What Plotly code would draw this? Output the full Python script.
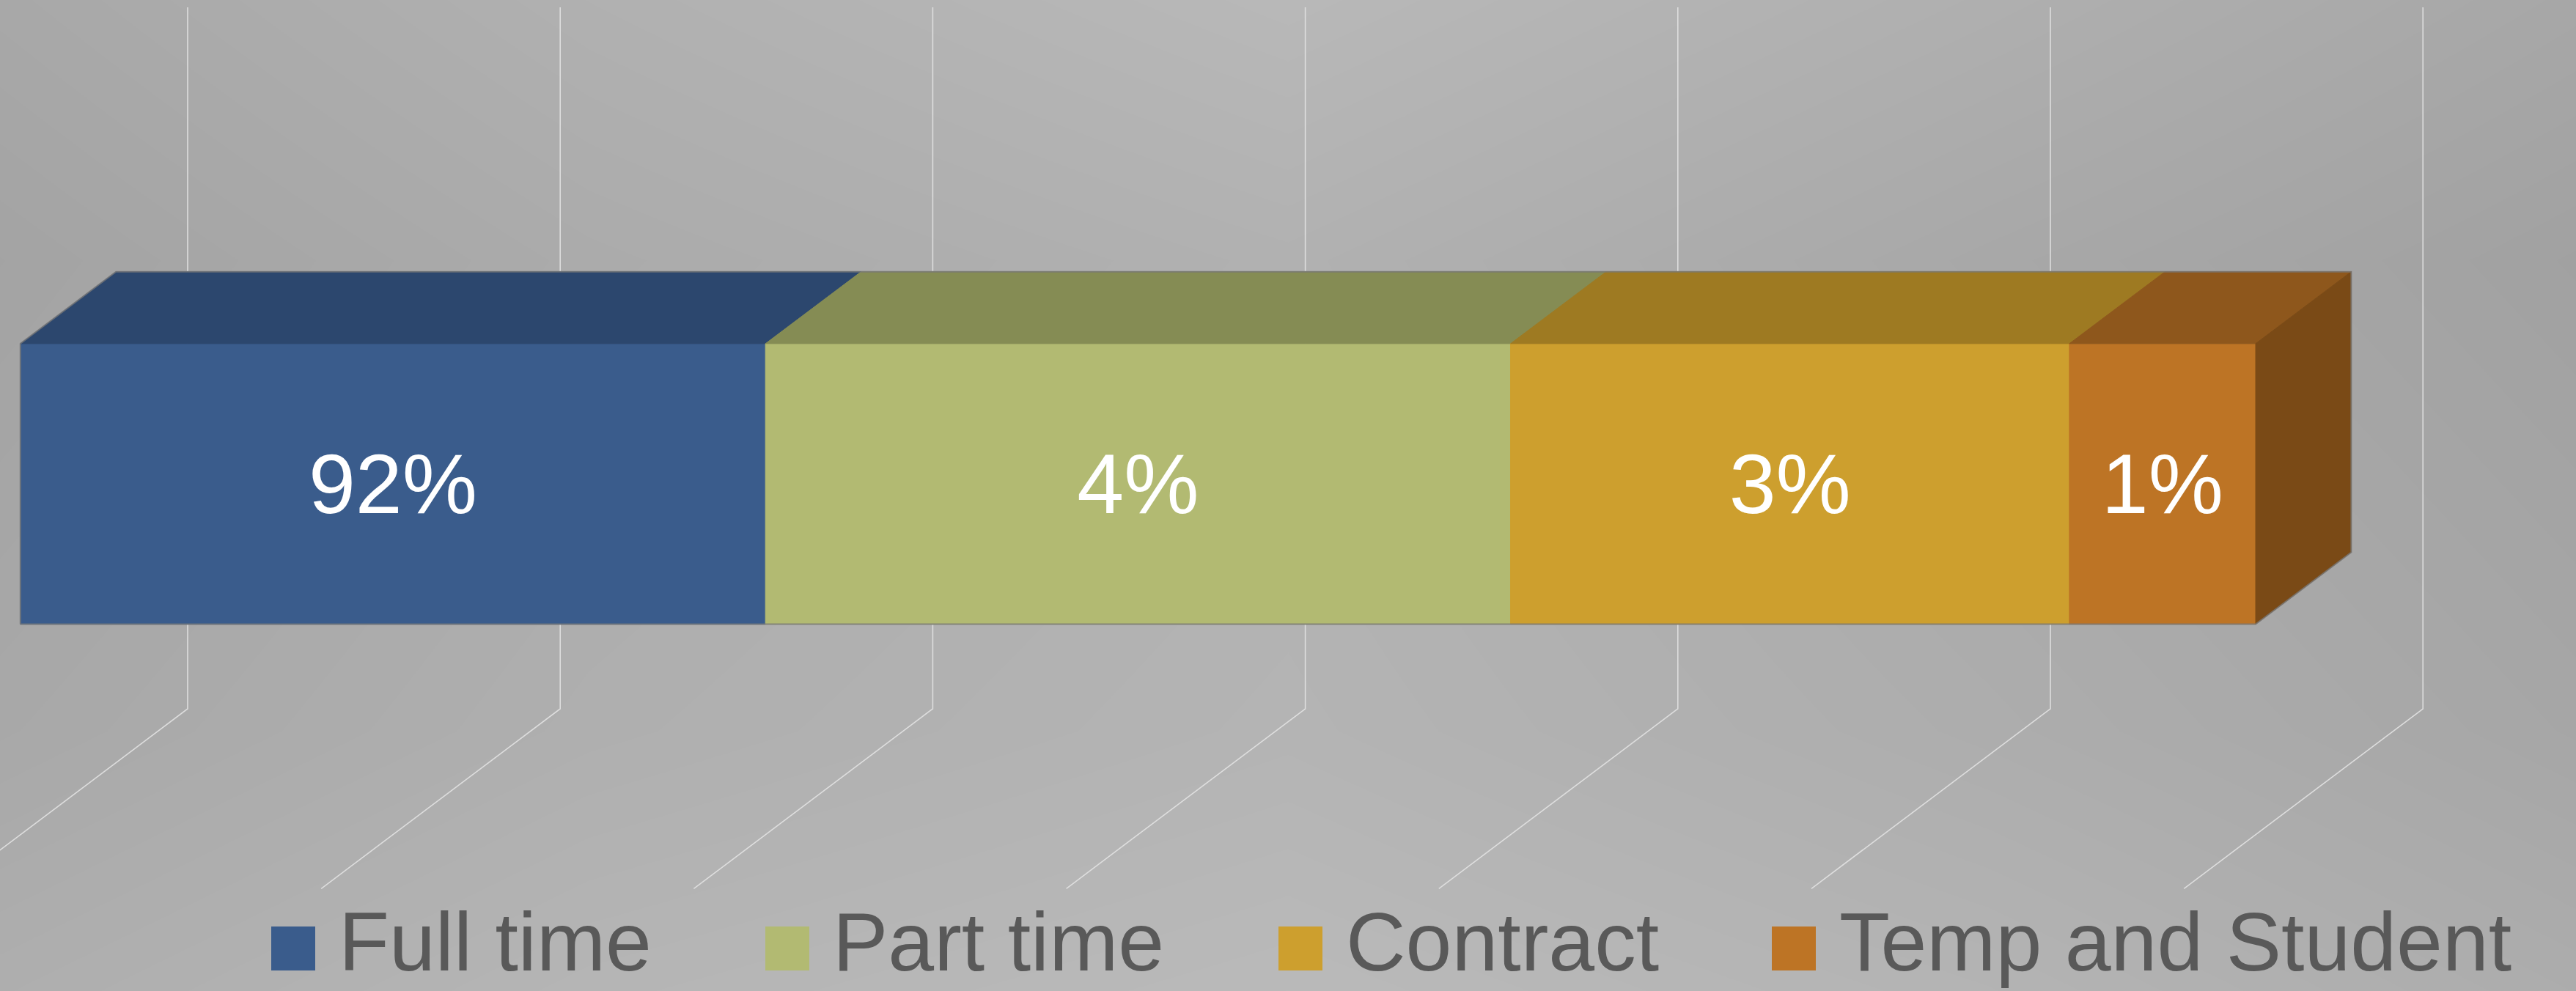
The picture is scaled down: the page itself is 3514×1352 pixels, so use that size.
import plotly.graph_objects as go

# ---------------- data ----------------
CATEGORIES = ["Full time", "Part time", "Contract", "Temp and Student"]
LABELS = ["92%", "4%", "3%", "1%"]
SEGMENT_LENGTHS = [2.0, 2.0, 1.5, 0.5]          # drawn length on the value axis
GRID_VALUES = [0, 1, 2, 3, 4, 5, 6]              # value-axis gridlines

# ---------------- style ----------------
FRONT_COLORS = ["#3A5C8C", "#B2BA72", "#CD9F2E", "#BD7425"]
TOP_COLORS = ["#2C476E", "#858C54", "#9E7A22", "#8E571C"]
SIDE_COLOR = "#7A4A16"
TEXT_GRAY = "#595959"
FONT = "Liberation Sans, Arial, sans-serif"

W, H = 3514, 1352
UNIT_PX = 508.2          # px per value unit
ORIGIN_X = -70.0         # screen x of value 0 at floor front
ORIGIN_Y = 1212.3        # screen y of floor front edge
WALL_PX = 957.0          # back-wall height in px
DEPTH_DX = 326.0 / UNIT_PX
DEPTH_DY = 245.3 / WALL_PX
BAR_D0, BAR_D1 = 0.3, 0.7   # bar depth span (0 = floor front, 1 = back wall)
BAR_H0, BAR_H1 = 0.3, 0.7   # bar height span (0 = floor, 1 = wall top)
LABEL_DY_PX = 11.0          # optical shift of labels (glyph centring)

X_RANGE = [-ORIGIN_X / UNIT_PX, (W - ORIGIN_X) / UNIT_PX]
Y_RANGE = [(ORIGIN_Y - H) / WALL_PX, ORIGIN_Y / WALL_PX]


def proj(u, d, h):
    """oblique projection of (value, depth, height) into axis coordinates"""
    return u + d * DEPTH_DX, h + d * DEPTH_DY


fig = go.Figure()

# ---------------- background gradient ----------------
BG_GRAY = [  # rows top -> bottom
    [170, 181, 190, 181, 170],
    [162, 171, 177, 168, 160],
    [167, 175, 180, 173, 165],
    [178, 186, 190, 185, 176],
]
nx, ny = len(BG_GRAY[0]), len(BG_GRAY)
pad = 0.3
bx = [X_RANGE[0] - pad + i * (X_RANGE[1] - X_RANGE[0] + 2 * pad) / (nx - 1) for i in range(nx)]
by = [Y_RANGE[0] - pad + j * (Y_RANGE[1] - Y_RANGE[0] + 2 * pad) / (ny - 1) for j in range(ny)]
fig.add_trace(go.Heatmap(
    x=bx, y=by, z=BG_GRAY[::-1], zmin=0, zmax=255, zsmooth="best",
    colorscale=[[0, "rgb(0,0,0)"], [1, "rgb(255,255,255)"]],
    showscale=False, hoverinfo="skip"))

# ---------------- gridlines: floor diagonal + back wall vertical ----------------
gx, gy = [], []
for v in GRID_VALUES:
    for (d, h) in [(0, 0), (1, 0), (1, 1)]:
        px_, py_ = proj(v, d, h)
        gx.append(px_)
        gy.append(py_)
    gx.append(None)
    gy.append(None)
fig.add_trace(go.Scatter(x=gx, y=gy, mode="lines",
                         line=dict(color="rgba(226,226,226,0.9)", width=1.6),
                         hoverinfo="skip", showlegend=False))

# ---------------- stacked 3-D bar ----------------
starts = []
acc = 0.0
for L in SEGMENT_LENGTHS:
    starts.append(acc)
    acc += L
total = acc


def poly(points, color):
    xs, ys = zip(*[proj(*p) for p in points])
    fig.add_trace(go.Scatter(x=list(xs) + [xs[0]], y=list(ys) + [ys[0]],
                             mode="lines", fill="toself", fillcolor=color,
                             line=dict(color=color, width=1),
                             hoverinfo="skip", showlegend=False))


for i, (s, L) in enumerate(zip(starts, SEGMENT_LENGTHS)):
    e = s + L
    # front face
    poly([(s, BAR_D0, BAR_H0), (e, BAR_D0, BAR_H0), (e, BAR_D0, BAR_H1), (s, BAR_D0, BAR_H1)],
         FRONT_COLORS[i])
    # top face
    poly([(s, BAR_D0, BAR_H1), (e, BAR_D0, BAR_H1), (e, BAR_D1, BAR_H1), (s, BAR_D1, BAR_H1)],
         TOP_COLORS[i])

# right end face
poly([(total, BAR_D0, BAR_H0), (total, BAR_D1, BAR_H0), (total, BAR_D1, BAR_H1), (total, BAR_D0, BAR_H1)],
     SIDE_COLOR)

# silhouette outline
outline = [(0, BAR_D0, BAR_H0), (total, BAR_D0, BAR_H0), (total, BAR_D1, BAR_H0),
           (total, BAR_D1, BAR_H1), (0, BAR_D1, BAR_H1), (0, BAR_D0, BAR_H1), (0, BAR_D0, BAR_H0)]
ox, oy = zip(*[proj(*p) for p in outline])
fig.add_trace(go.Scatter(x=list(ox), y=list(oy), mode="lines",
                         line=dict(color="rgba(120,120,120,0.8)", width=2),
                         hoverinfo="skip", showlegend=False))

# data labels on front faces
lx, ly = [], []
for s, L in zip(starts, SEGMENT_LENGTHS):
    p = proj(s + L / 2, BAR_D0, (BAR_H0 + BAR_H1) / 2)
    lx.append(p[0])
    ly.append(p[1] - LABEL_DY_PX / WALL_PX)
fig.add_trace(go.Scatter(x=lx, y=ly, mode="text", text=LABELS,
                         textposition="middle center",
                         textfont=dict(family=FONT, size=115, color="white"),
                         hoverinfo="skip", showlegend=False))

# ---------------- legend (bottom, drawn as shapes + text) ----------------
LEGEND_SQUARE_X = [370, 1044, 1744, 2417]   # px
LEGEND_SQ = 60
LEGEND_Y_TOP = 1264
LEGEND_TEXT_CY = 1285
shapes = []
annotations = []
for i, cat in enumerate(CATEGORIES):
    x0 = LEGEND_SQUARE_X[i]
    shapes.append(dict(type="rect", xref="paper", yref="paper",
                       x0=x0 / W, x1=(x0 + LEGEND_SQ) / W,
                       y0=1 - (LEGEND_Y_TOP + LEGEND_SQ) / H, y1=1 - LEGEND_Y_TOP / H,
                       fillcolor=FRONT_COLORS[i], line=dict(width=0)))
    annotations.append(dict(xref="paper", yref="paper",
                            x=(x0 + LEGEND_SQ + 30) / W, y=1 - LEGEND_TEXT_CY / H,
                            xanchor="left", yanchor="middle", showarrow=False,
                            text=cat, font=dict(family=FONT, size=113, color=TEXT_GRAY)))

fig.update_layout(
    width=W, height=H, margin=dict(l=0, r=0, t=0, b=0, pad=0),
    paper_bgcolor="#b0b0b0", plot_bgcolor="rgba(0,0,0,0)",
    showlegend=False, hovermode=False,
    shapes=shapes, annotations=annotations,
    xaxis=dict(range=X_RANGE, visible=False, fixedrange=True),
    yaxis=dict(range=Y_RANGE, visible=False, fixedrange=True),
)

fig.write_html("out.html", config={"displayModeBar": False},
               post_script="document.body.style.margin='0';")
